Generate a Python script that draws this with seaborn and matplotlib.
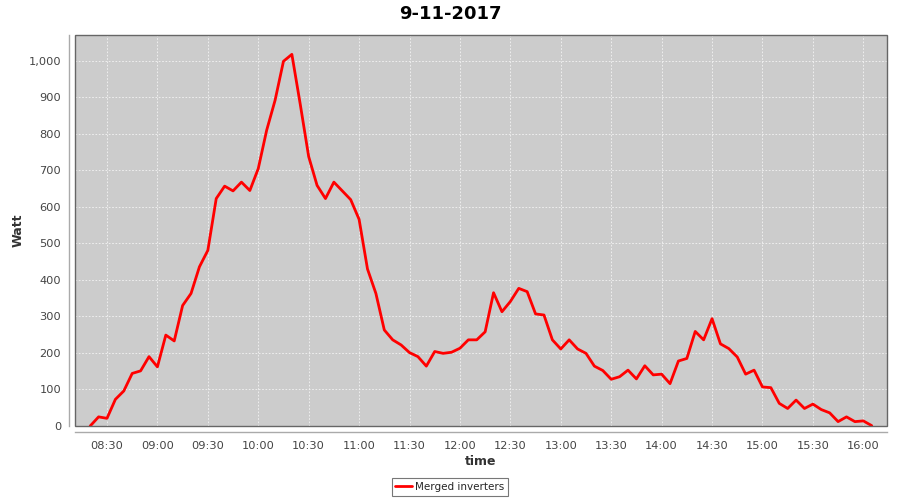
import pandas as pd
import matplotlib.pyplot as plt
import matplotlib.dates as mdates
import matplotlib.ticker as mticker
from matplotlib.patches import Rectangle
from matplotlib.lines import Line2D
import seaborn as sns

# 5-minute samples
start_time = "2017-09-11 08:20"
watt = [
    0, 25, 21, 73, 96, 144, 151, 190, 162, 249, 233, 330,
    363, 436, 481, 623, 657, 644, 668, 645, 705, 810, 892, 999,
    1018, 881, 738, 659, 623, 668, 644, 620, 566, 430, 363, 263,
    236, 222, 201, 190, 164, 204, 199, 202, 213, 236, 236, 258,
    365, 313, 341, 377, 368, 307, 304, 236, 211, 236, 211, 199,
    164, 152, 128, 135, 153, 129, 165, 140, 142, 116, 178, 185,
    259, 236, 294, 225, 212, 189, 142, 153, 107, 105, 62, 48,
    71, 48, 60, 45, 36, 12, 25, 12, 14, 1,
]
series_name = "Merged inverters"
title = "9-11-2017"

times = pd.date_range(start_time, periods=len(watt), freq="5min")
df = pd.DataFrame({"time": times, "Watt": watt, "series": series_name})

sns.set_style("white")
plt.rcParams["font.family"] = ["DejaVu Sans"]

fig = plt.figure(figsize=(9, 5), dpi=100)
ax = fig.add_axes([75 / 900, 1 - 426 / 500, 812 / 900, 391 / 500])
ax.set_facecolor("#cccccc")

sns.lineplot(data=df, x="time", y="Watt", hue="series", palette=["#ff0000"],
             linewidth=2, ax=ax, legend=True)
ax.lines[0].set_solid_joinstyle("round")

ax.set_xlim(pd.Timestamp("2017-09-11 08:10:58"), pd.Timestamp("2017-09-11 16:14:06"))
ax.set_ylim(0, 1071)
ax.xaxis.set_major_locator(mdates.MinuteLocator(byminute=[0, 30]))
ax.xaxis.set_major_formatter(mdates.DateFormatter("%H:%M"))
ax.yaxis.set_major_locator(mticker.MultipleLocator(100))
ax.yaxis.set_major_formatter(mticker.FuncFormatter(lambda v, p: f"{int(v):,}"))

ax.grid(True, color="#f4f4f4", linestyle=(0, (2, 2)), linewidth=0.6)
ax.tick_params(axis="both", direction="out", length=4, width=1, color="#999999",
               labelsize=8.2, labelcolor="#444444", pad=2)
ax.tick_params(axis="x", pad=3)

for side in ["top", "right"]:
    ax.spines[side].set_visible(False)
for side in ["left", "bottom"]:
    ax.spines[side].set_position(("outward", 4))
    ax.spines[side].set_color("#aaaaaa")
    ax.spines[side].set_linewidth(1)

# plot outline
ax.add_patch(Rectangle((0, 0), 1, 1, transform=ax.transAxes, fill=False,
                       edgecolor="#666666", linewidth=1, clip_on=False, zorder=5))

ax.set_xlabel("time", fontsize=9, fontweight="bold", color="#333333", labelpad=3)
ax.set_ylabel("Watt", fontsize=9, fontweight="bold", color="#333333", labelpad=3)
fig.text(0.5, 1 - 14 / 500, title, ha="center", va="center",
         fontsize=13, fontweight="bold", color="black")

ax.legend_.remove()
handle = Line2D([], [], color="#ff0000", linewidth=2)
fig.legend([handle], [series_name], loc="center", bbox_to_anchor=(450 / 900, 1 - 487 / 500),
           frameon=True, fancybox=False, edgecolor="#555555", fontsize=7.5,
           handlelength=1.6, handletextpad=0.3, borderpad=0.35, borderaxespad=0)
fig.legends[0].get_frame().set_linewidth(0.8)

fig.savefig("out.png", dpi=100)
plt.close(fig)
